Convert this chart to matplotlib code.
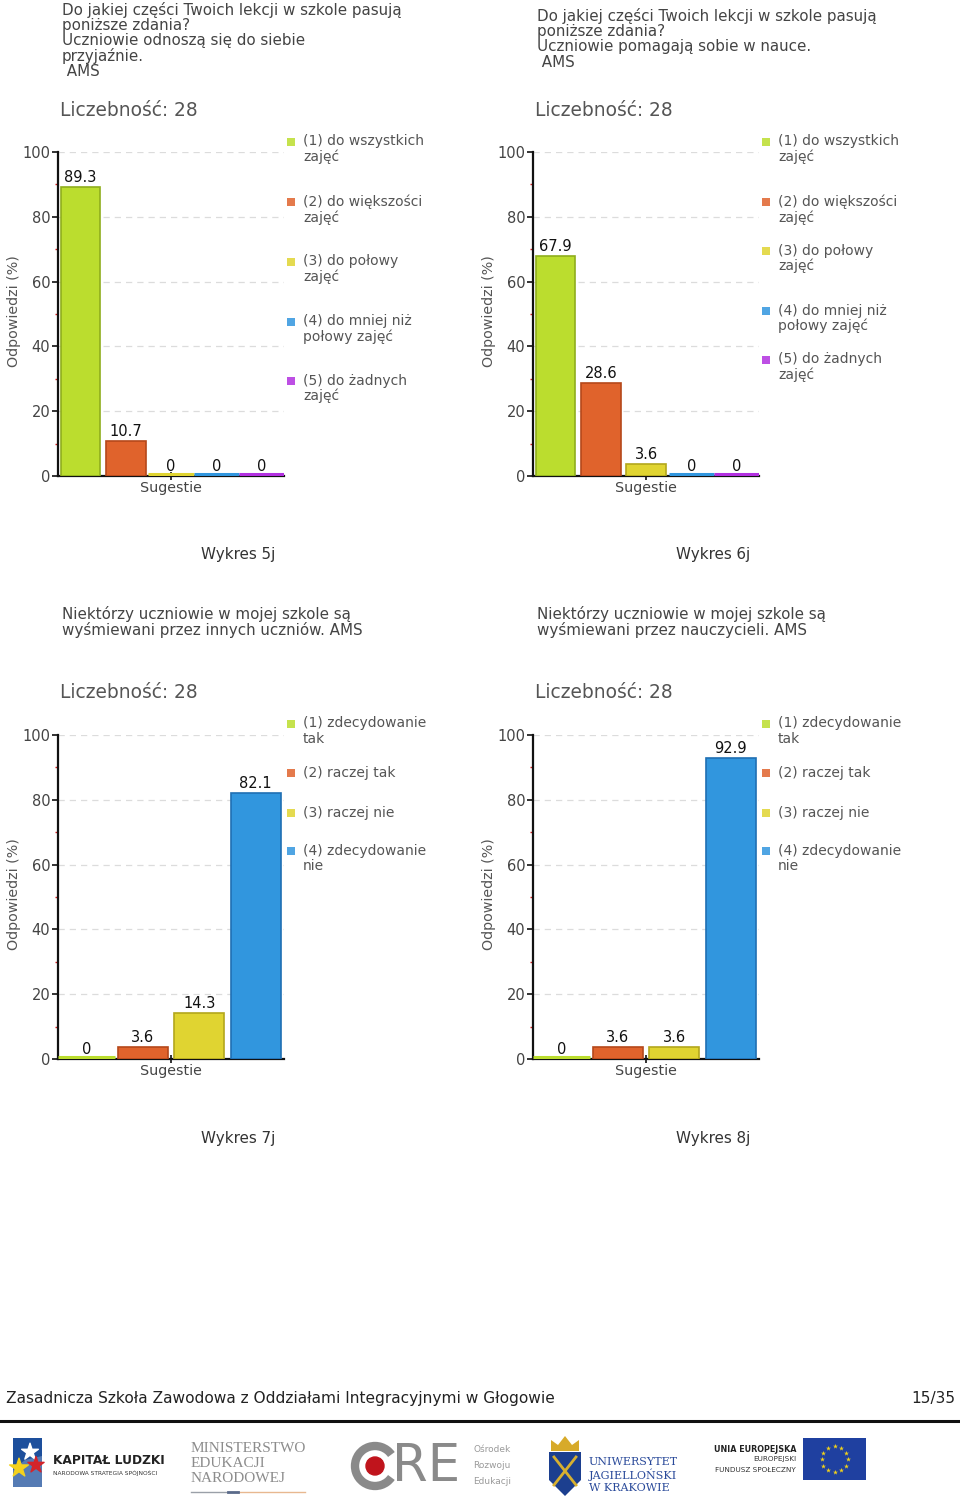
import matplotlib
matplotlib.use("Agg")
import matplotlib.pyplot as plt
from matplotlib.patches import Rectangle, Circle, Arc, Polygon
import numpy as np

plt.rcParams['font.family'] = ['DejaVu Sans']

# ---------------- data ----------------
titles_5j = ["Do jakiej części Twoich lekcji w szkole pasują", "poniższe zdania?",
             "Uczniowie odnoszą się do siebie", "przyjaźnie.", " AMS"]
titles_6j = ["Do jakiej części Twoich lekcji w szkole pasują", "poniższe zdania?",
             "Uczniowie pomagają sobie w nauce.", " AMS"]
titles_7j = ["Niektórzy uczniowie w mojej szkole są", "wyśmiewani przez innych uczniów. AMS"]
titles_8j = ["Niektórzy uczniowie w mojej szkole są", "wyśmiewani przez nauczycieli. AMS"]

count_label = "Liczebność: 28"
x_category = "Sugestie"
y_label = "Odpowiedzi (%)"

legend_5 = ["(1) do wszystkich\nzajęć", "(2) do większości\nzajęć", "(3) do połowy\nzajęć",
            "(4) do mniej niż\npołowy zajęć", "(5) do żadnych\nzajęć"]
legend_4 = ["(1) zdecydowanie\ntak", "(2) raczej tak", "(3) raczej nie", "(4) zdecydowanie\nnie"]

values_5j = [89.3, 10.7, 0, 0, 0]
values_6j = [67.9, 28.6, 3.6, 0, 0]
values_7j = [0, 3.6, 14.3, 82.1]
values_8j = [0, 3.6, 3.6, 92.9]

captions = ["Wykres 5j", "Wykres 6j", "Wykres 7j", "Wykres 8j"]
footer_left = "Zasadnicza Szkoła Zawodowa z Oddziałami Integracyjnymi w Głogowie"
footer_right = "15/35"

yticks = [0, 20, 40, 60, 80, 100]

# ---------------- style ----------------
fills = ['#bbdd2e', '#e0632c', '#e0d431', '#3196de', '#b230e0']
edges = ['#8fae1c', '#b5481a', '#b3a71c', '#1f6fb3', '#8a1fb3']
TXT = '#444444'

W, H = 960, 1510
fig = plt.figure(figsize=(W / 100, H / 100), dpi=100)

# overlay axes in pixel coordinates for texts / decorations
ov = fig.add_axes([0, 0, 1, 1], zorder=-5)
ov.set_xlim(0, W)
ov.set_ylim(H, 0)
ov.axis('off')


def add_chart(left, top, right, bottom, values, legend, leg_x, leg_ys, title, title_x, title_y0,
              count_y, caption, cap_x, cap_y):
    ax = fig.add_axes([left / W, 1 - bottom / H, (right - left) / W, (bottom - top) / H])
    n = len(values)
    x = np.arange(n)
    width = 0.88
    ax.bar(x, values, width=width, color=fills[:n], edgecolor=edges[:n], linewidth=1.2, zorder=3)
    # zero-valued series are shown as a thin coloured line on the axis
    for i, v in enumerate(values):
        if v == 0:
            ax.hlines(0.55, i - 0.5, i + 0.5, colors=fills[i], linewidth=2.2, zorder=4)
    for xi, v in zip(x, values):
        ax.annotate(f"{v:g}", (xi, v), xytext=(0, 1.5), textcoords='offset points',
                    ha='center', va='bottom', fontsize=10.5, color='#111111', zorder=5)
    ax.set_xlim(-0.5, n - 0.5)
    ax.set_ylim(0, 100)
    ax.set_yticks(yticks)
    ax.set_yticklabels([str(t) for t in yticks], fontsize=10.5, color=TXT)
    ax.set_yticks([10, 30, 50, 70, 90], minor=True)
    ax.tick_params(axis='y', which='major', length=4, width=1.2, color='#111111', pad=1.5)
    ax.tick_params(axis='y', which='minor', length=2.5, width=1, color='#d02020')
    ax.set_xticks([(n - 1) / 2])
    ax.set_xticklabels([x_category], fontsize=10.3, color=TXT)
    ax.tick_params(axis='x', direction='inout', length=6, width=1.2, color='#111111', pad=0.5)
    for s in ['top', 'right']:
        ax.spines[s].set_visible(False)
    for s in ['left', 'bottom']:
        ax.spines[s].set_linewidth(1.6)
        ax.spines[s].set_color('#111111')
        ax.spines[s].set_zorder(2.5)
    ax.yaxis.grid(True, which='major', linestyle=(0, (5, 4)), color='#dcdcdc', linewidth=0.9, zorder=0)
    ax.set_axisbelow(True)
    ax.patch.set_alpha(0)

    # y label
    ov.text(left - 44, (top + bottom) / 2 - 3, y_label, rotation=90, ha='center', va='center',
            fontsize=10.3, color='#555555')
    # legend
    for i, (lab, ly) in enumerate(zip(legend, leg_ys)):
        ov.add_patch(Rectangle((leg_x + 3, ly - 4), 8, 8, color=fills[i], alpha=0.85, lw=0))
        ov.text(leg_x + 19, ly - 7.5, lab, ha='left', va='top', fontsize=10, color='#555555',
                linespacing=1.1)
    # title
    for i, line in enumerate(title):
        ov.text(title_x, title_y0 + i * 15.5, line, ha='left', va='center', fontsize=10.9, color=TXT)
    ov.text(title_x - 2, count_y, count_label, ha='left', va='center', fontsize=13.4, color='#555555')
    ov.text(cap_x, cap_y, caption, ha='center', va='center', fontsize=10.9, color='#333333')


add_chart(58, 152, 284, 476, values_5j, legend_5, 284, [142, 202, 262, 322, 381],
          titles_5j, 62, 10, 110, captions[0], 238, 555)
add_chart(533, 152, 759, 476, values_6j, legend_5, 759, [142, 202, 251, 311, 360],
          titles_6j, 537, 16, 110, captions[1], 713, 555)
add_chart(58, 735, 284, 1059, values_7j, legend_4, 284, [724, 773, 813, 851],
          titles_7j, 62, 614, 692, captions[2], 238, 1138)
add_chart(533, 735, 759, 1059, values_8j, legend_4, 759, [724, 773, 813, 851],
          titles_8j, 537, 614, 692, captions[3], 713, 1138)

# ---------------- footer ----------------
ov.text(6, 1399, footer_left, ha='left', va='center', fontsize=11.1, color='#222222')
ov.text(955, 1399, footer_right, ha='right', va='center', fontsize=11.1, color='#222222')
ov.plot([0, 960], [1421, 1421], color='#111111', lw=2.2)

# Kapitał Ludzki logo
ov.add_patch(Polygon([[13, 1438], [42, 1438], [42, 1487], [13, 1487]], closed=True,
                     color='#1d4f9c', lw=0))
ov.add_patch(Polygon([[13, 1470], [25, 1460], [42, 1456], [42, 1487], [13, 1487]], closed=True,
                     color='#ffffff', lw=0, alpha=0.25))
ov.scatter([30, 36, 19], [1452, 1465, 1468], marker='*', s=[160, 150, 200],
           c=['#ffffff', '#d4242a', '#f5d21c'], zorder=3)
ov.text(53, 1461, "KAPITAŁ LUDZKI", ha='left', va='center', fontsize=8.8, fontweight='bold',
        color='#222222')
ov.text(53, 1473, "NARODOWA STRATEGIA SPÓJNOŚCI", ha='left', va='center', fontsize=4.2,
        color='#333333')

# Ministerstwo Edukacji Narodowej
for i, line in enumerate(["MINISTERSTWO", "EDUKACJI", "NARODOWEJ"]):
    ov.text(191, 1448 + i * 15.5, line, ha='left', va='center', fontsize=11,
            family='Liberation Serif', color='#8c8c8c')
ov.plot([191, 228], [1492, 1492], color='#9aa0a8', lw=1)
ov.plot([238, 305], [1492, 1492], color='#e8b890', lw=1)
ov.plot([228, 238], [1492, 1492], color='#5a6a8a', lw=2)

# ORE
ov.add_patch(Arc((375, 1466), 40, 40, theta1=35, theta2=325, color='#8a8a8a', lw=6))
ov.add_patch(Circle((375, 1466), 9, color='#c0141c'))
ov.text(392, 1467, "RE", ha='left', va='center', fontsize=37, color='#8a8a8a')
for i, line in enumerate(["Ośrodek", "Rozwoju", "Edukacji"]):
    ov.text(473, 1449 + i * 16, line, ha='left', va='center', fontsize=6.5, color='#9a9a9a')

# Uniwersytet Jagielloński
ov.add_patch(Polygon([[549, 1452], [581, 1452], [581, 1480], [565, 1496], [549, 1480]],
                     closed=True, color='#1c3f8f', lw=0))
ov.add_patch(Polygon([[551, 1451], [551, 1440], [558, 1445], [565, 1436], [572, 1445],
                      [579, 1440], [579, 1451]], closed=True, color='#d7aa2a', lw=0))
ov.plot([554, 576], [1457, 1485], color='#d7b030', lw=2)
ov.plot([576, 554], [1457, 1485], color='#d7b030', lw=2)
for i, line in enumerate(["UNIWERSYTET", "JAGIELLOŃSKI", "W KRAKOWIE"]):
    ov.text(589, 1462 + i * 13, line, ha='left', va='center', fontsize=8,
            family='DejaVu Serif', color='#2a4a9a')

# Unia Europejska
ov.text(796, 1449, "UNIA EUROPEJSKA", ha='right', va='center', fontsize=5.8, fontweight='bold',
        color='#222222')
ov.text(796, 1459, "EUROPEJSKI", ha='right', va='center', fontsize=5.2, color='#333333')
ov.text(796, 1470, "FUNDUSZ SPOŁECZNY", ha='right', va='center', fontsize=5.2, color='#333333')
ov.add_patch(Rectangle((803, 1438), 63, 42, color='#1f40a0', lw=0))
ang = np.linspace(0, 2 * np.pi, 12, endpoint=False)
ov.scatter(834.5 + 13 * np.cos(ang), 1459 + 13 * np.sin(ang), marker='*', s=14, c='#f2d21a',
           zorder=3, linewidths=0)

fig.savefig("out.png", dpi=100)
